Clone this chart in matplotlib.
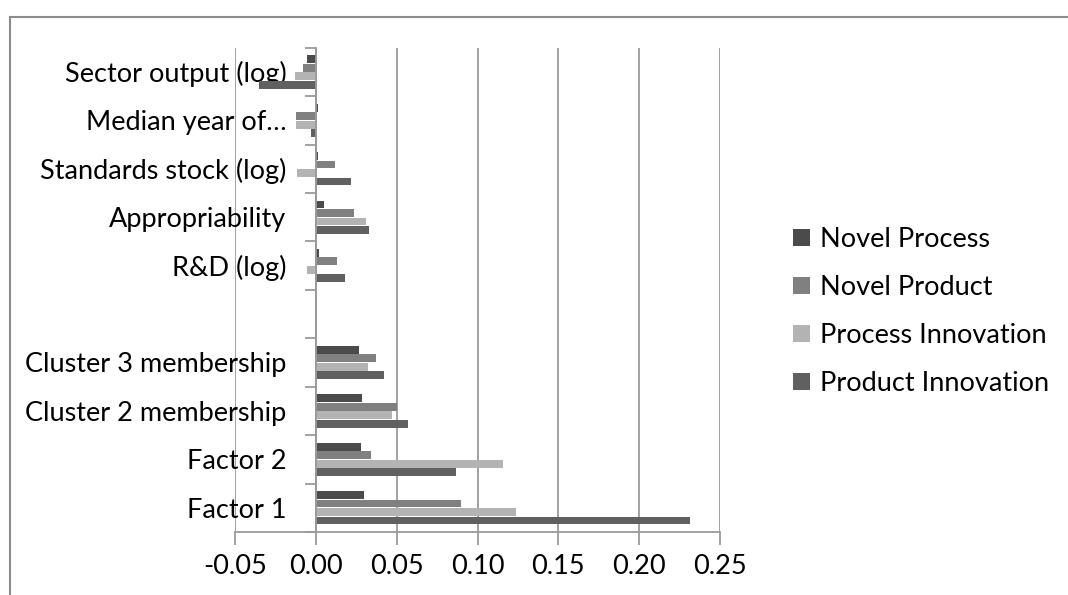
import matplotlib.pyplot as plt
import numpy as np
from matplotlib.lines import Line2D

plt.rcParams["font.family"] = ["Lato", "DejaVu Sans"]

categories = [
    "Sector output (log)", "Median year of\u2026", "Standards stock (log)",
    "Appropriability", "R&D (log)", "", "Cluster 3 membership",
    "Cluster 2 membership", "Factor 2", "Factor 1",
]
series_names = ["Novel Process", "Novel Product", "Process Innovation", "Product Innovation"]
novel_process = [-0.0054, 0.0015, 0.0016, 0.0051, 0.0020, np.nan, 0.027, 0.0286, 0.028, 0.030]
novel_product = [-0.0082, -0.0123, 0.0117, 0.0237, 0.0130, np.nan, 0.037, 0.050, 0.034, 0.090]
process_innovation = [-0.0130, -0.0120, -0.0114, 0.0310, -0.0054, np.nan, 0.032, 0.047, 0.116, 0.124]
product_innovation = [-0.0350, -0.0027, 0.0220, 0.0330, 0.0183, np.nan, 0.042, 0.0568, 0.0866, 0.2315]
x_ticks = [-0.05, 0.00, 0.05, 0.10, 0.15, 0.20, 0.25]

colors = ["#4b4b4b", "#808080", "#b3b3b3", "#606060"]
grid_col = "#9a9a9a"
fs = 19.5

fig = plt.figure(figsize=(10.68, 5.95), dpi=100)
ax = fig.add_axes([235 / 1068, 1 - 532 / 595, 485 / 1068, (532 - 47.7) / 595])

y = np.arange(len(categories))
bar_h = 0.175
all_series = [novel_process, novel_product, process_innovation, product_innovation]
for k, (vals, name, c) in enumerate(zip(all_series, series_names, colors)):
    ax.barh(y + (k - 1.5) * bar_h, vals, height=bar_h * 0.93, color=c, label=name)

ax.set_xlim(-0.05, 0.25)
ax.set_ylim(len(categories) - 0.5, -0.5)

ax.set_xticks(x_ticks)
ax.set_xticklabels([f"{t:.2f}" for t in x_ticks])
ax.xaxis.grid(True, color=grid_col, lw=1.3)
ax.set_axisbelow(True)

# category boundaries as major ticks, labels at centers as minor ticks
ax.set_yticks(np.arange(len(categories) + 1) - 0.5)
ax.set_yticklabels([])
ax.set_yticks(y, minor=True)
ax.set_yticklabels(categories, minor=True)
ax.tick_params(axis="y", which="major", length=8, width=1.3, color=grid_col, direction="out")
ax.tick_params(axis="y", which="minor", length=0, pad=21, labelsize=fs)
ax.tick_params(axis="x", length=9, width=1.3, color=grid_col, labelsize=fs, pad=7)

for s in ["top", "right"]:
    ax.spines[s].set_visible(False)
ax.spines["left"].set_position(("data", 0))
ax.spines["left"].set_color(grid_col)
ax.spines["left"].set_linewidth(1.3)
ax.spines["bottom"].set_color(grid_col)
ax.spines["bottom"].set_linewidth(1.3)

fig.legend(loc="center left", bbox_to_anchor=(769 / 1068, 1 - 311.5 / 595),
           frameon=False, fontsize=fs, handlelength=0.6, handleheight=0.6,
           handletextpad=0.4, labelspacing=0.85)

# outer chart frame
fig.add_artist(Line2D([9.5 / 1068, 9.5 / 1068], [1 - 17 / 595, -0.1],
                      transform=fig.transFigure, color="#8c8c8c", lw=1.5))
fig.add_artist(Line2D([9.5 / 1068, 1.1], [1 - 17 / 595, 1 - 17 / 595],
                      transform=fig.transFigure, color="#8c8c8c", lw=1.5))

fig.savefig("out.png", dpi=100)
